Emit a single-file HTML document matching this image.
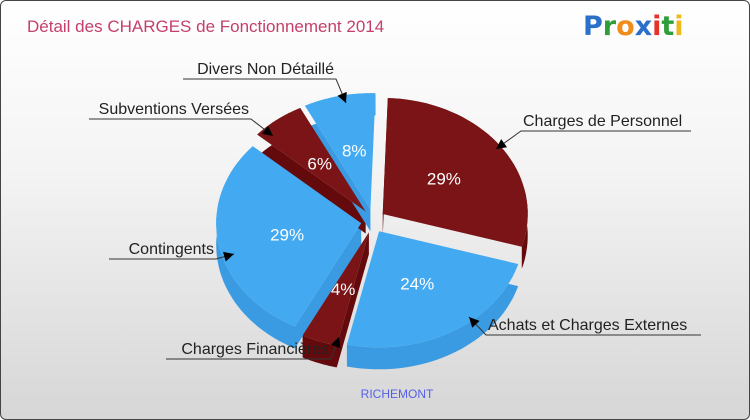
<!DOCTYPE html>
<html><head><meta charset="utf-8"><style>
body{margin:0;}
#wrap{position:relative;width:748px;height:418px;border:1px solid #444;border-radius:6px;overflow:hidden;background:linear-gradient(#ffffff 0%,#f4f4f4 40%,#d6d6d6 100%);font-family:"Liberation Sans",sans-serif;}
</style></head><body>
<div id="wrap">
<svg id="svg" width="748" height="418">
<text x="26" y="31" font-size="17" fill="#c4406a">Détail des CHARGES de Fonctionnement 2014</text>
<g font-size="27" font-weight="bold" font-family="DejaVu Sans, sans-serif">
<text x="582" y="34"><tspan fill="#2a6fc9">P</tspan><tspan fill="#2e9e3a">r</tspan><tspan fill="#f08c1c">o</tspan><tspan fill="#2a6fc9">x</tspan><tspan fill="#e5332a">i</tspan><tspan fill="#2e9e3a">t</tspan><tspan fill="#f0b81c">i</tspan></text></g>
<text x="396" y="397" font-size="12" fill="#5560e8" text-anchor="middle">RICHEMONT</text>
<g id="sides"></g><g id="tops"></g><g id="labels"></g>
</svg>
</div>
<script>
const categories=["Charges de Personnel","Achats et Charges Externes","Charges Financières","Contingents","Subventions Versées","Divers Non Détaillé"];
const values=[29,24,4,29,6,8];
const colorIdx=[0,1,0,1,0,1];
const tops=["#7a1416","#43aaf2"],sides=["#650a0c","#3a9be2"];
const cx=372,cy=220,rx=145,ry=116,depth=22,explode=12;
const labelAnchors=[[520,130,690,495,148],[485,334,700,468,316],[330,358,165,338,336],[215,258,108,233,253],[250,118,88,272,135],[335,78,182,345,102]];
const NS="http://www.w3.org/2000/svg";
function el(t,a,p){const e=document.createElementNS(NS,t);for(const k in a)e.setAttribute(k,a[k]);p.appendChild(e);return e;}
const total=values.reduce((a,b)=>a+b,0);
let ang=-88;
const S=document.getElementById('sides'),T=document.getElementById('tops'),L=document.getElementById('labels');
function pt(x0,y0,a,r){return [x0+rx*r*Math.cos(a*Math.PI/180),y0+ry*r*Math.sin(a*Math.PI/180)];}
values.forEach((v,i)=>{
  const sweep=v/total*360,a0=ang,a1=ang+sweep,mid=(a0+a1)/2;ang=a1;
  const ox=cx+explode*Math.cos(mid*Math.PI/180),oy=cy+explode*Math.sin(mid*Math.PI/180);
  const arc=[];for(let k=0;k<=40;k++)arc.push(pt(ox,oy,a0+sweep*k/40,1));
  let side="M"+ox+","+oy+" L"+ox+","+(oy+depth)+" ";
  arc.forEach(p=>side+="L"+p[0].toFixed(1)+","+(p[1]+depth).toFixed(1)+" ");
  for(let k=arc.length-1;k>=0;k--)side+="L"+arc[k][0].toFixed(1)+","+arc[k][1].toFixed(1)+" ";
  side+="Z";
  const s=el('path',{d:side,fill:sides[colorIdx[i]]},S);
  
  
  let top="M"+ox+","+oy+" ";arc.forEach(p=>top+="L"+p[0].toFixed(1)+","+p[1].toFixed(1)+" ");top+="Z";
  const t=el('path',{d:top,fill:tops[colorIdx[i]]},T);
  
  
  const lp=pt(ox,oy,mid,0.52);
  const pl=el('text',{x:lp[0],y:lp[1]+6,'font-size':17,fill:'#fff','text-anchor':'middle'},L);
  pl.textContent=v+"%";
  
  
  const a=labelAnchors[i];
  const ln=el('path',{d:`M${a[2]},${a[1]} L${a[0]},${a[1]} L${a[3]},${a[4]}`,stroke:'#333',fill:'none','stroke-width':1},L);
  
  
  const dx=a[3]-a[0],dy=a[4]-a[1],len=Math.hypot(dx,dy),ux=dx/len,uy=dy/len;
  const hx=a[3],hy=a[4],bx=hx-ux*10,by=hy-uy*10;
  const ar=el('path',{d:`M${hx},${hy} L${bx-uy*5},${by+ux*5} L${bx+uy*5},${by-ux*5}Z`,fill:'#000'},L);
  
  
  const right=a[2]>a[0];
  const tx=el('text',{x:right?a[0]+2:a[0]-2,y:a[1]-5,'font-size':16,fill:'#222','text-anchor':right?'start':'end'},L);
  tx.textContent=categories[i];
  
  
});
</script>
</body></html>
